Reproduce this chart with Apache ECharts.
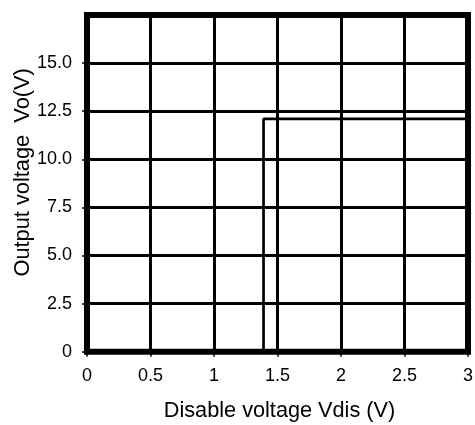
<!DOCTYPE html>
<html>
<head>
<meta charset="utf-8">
<script src="https://cdn.jsdelivr.net/npm/echarts@6/dist/echarts.min.js"></script>
<style>
  html, body { margin: 0; padding: 0; background: #fff; }
  #chart { width: 475px; height: 425px; }
</style>
</head>
<body>
<div id="chart"></div>
<script>
// Data
const xName = 'Disable voltage Vdis (V)';
const yName = 'Output voltage  Vo(V)';
const xTicks = [0, 0.5, 1, 1.5, 2, 2.5, 3];
const yTicks = [0, 2.5, 5, 7.5, 10, 12.5, 15, 17.5];
const vdis = [1.39, 1.39, 3.0];
const vo = [0, 12.1, 12.1];

const FONT = '"Liberation Sans", Arial, Helvetica, sans-serif';
const chart = echarts.init(document.getElementById('chart'), null, { renderer: 'canvas' });

chart.setOption({
  animation: false,
  backgroundColor: '#fff',
  grid: {
    left: 87, right: 7, top: 15, bottom: 73.3,
    outerBoundsMode: 'none', containLabel: false,
    show: true, borderColor: '#000', borderWidth: 6, backgroundColor: 'transparent'
  },
  xAxis: {
    type: 'value',
    min: xTicks[0], max: xTicks[xTicks.length - 1], interval: 0.5,
    name: xName, nameLocation: 'middle', nameGap: 48, nameMoveOverlap: false,
    nameTextStyle: { fontFamily: FONT, fontSize: 21.7, color: '#000', padding: [0, 0, 0, 4] },
    axisLine: { show: false },
    axisTick: { show: true, length: 5, lineStyle: { color: '#000', width: 1.5 } },
    axisLabel: { fontFamily: FONT, fontSize: 18, color: '#000', margin: 15,
      formatter: v => String(v) },
    splitLine: { show: true, lineStyle: { color: '#000', width: 3 } }
  },
  yAxis: {
    type: 'value',
    min: yTicks[0], max: yTicks[yTicks.length - 1], interval: 2.5,
    name: yName, nameLocation: 'middle', nameGap: 53, nameMoveOverlap: false,
    nameTextStyle: { fontFamily: FONT, fontSize: 21.8, color: '#000', padding: [0, 0, 0, 22] },
    axisLine: { show: false },
    axisTick: { show: true, length: 5, lineStyle: { color: '#000', width: 1.5 } },
    axisLabel: { fontFamily: FONT, fontSize: 18, color: '#000', margin: 15, showMaxLabel: false,
      formatter: v => (v === 0 ? '0' : v.toFixed(1)) },
    splitLine: { show: true, lineStyle: { color: '#000', width: 3 } }
  },
  series: [{
    type: 'line',
    data: vdis.map((x, i) => [x, vo[i]]),
    symbol: 'none',
    lineStyle: { color: '#000', width: 2.7 },
    z: 5
  }]
});
</script>
</body>
</html>
